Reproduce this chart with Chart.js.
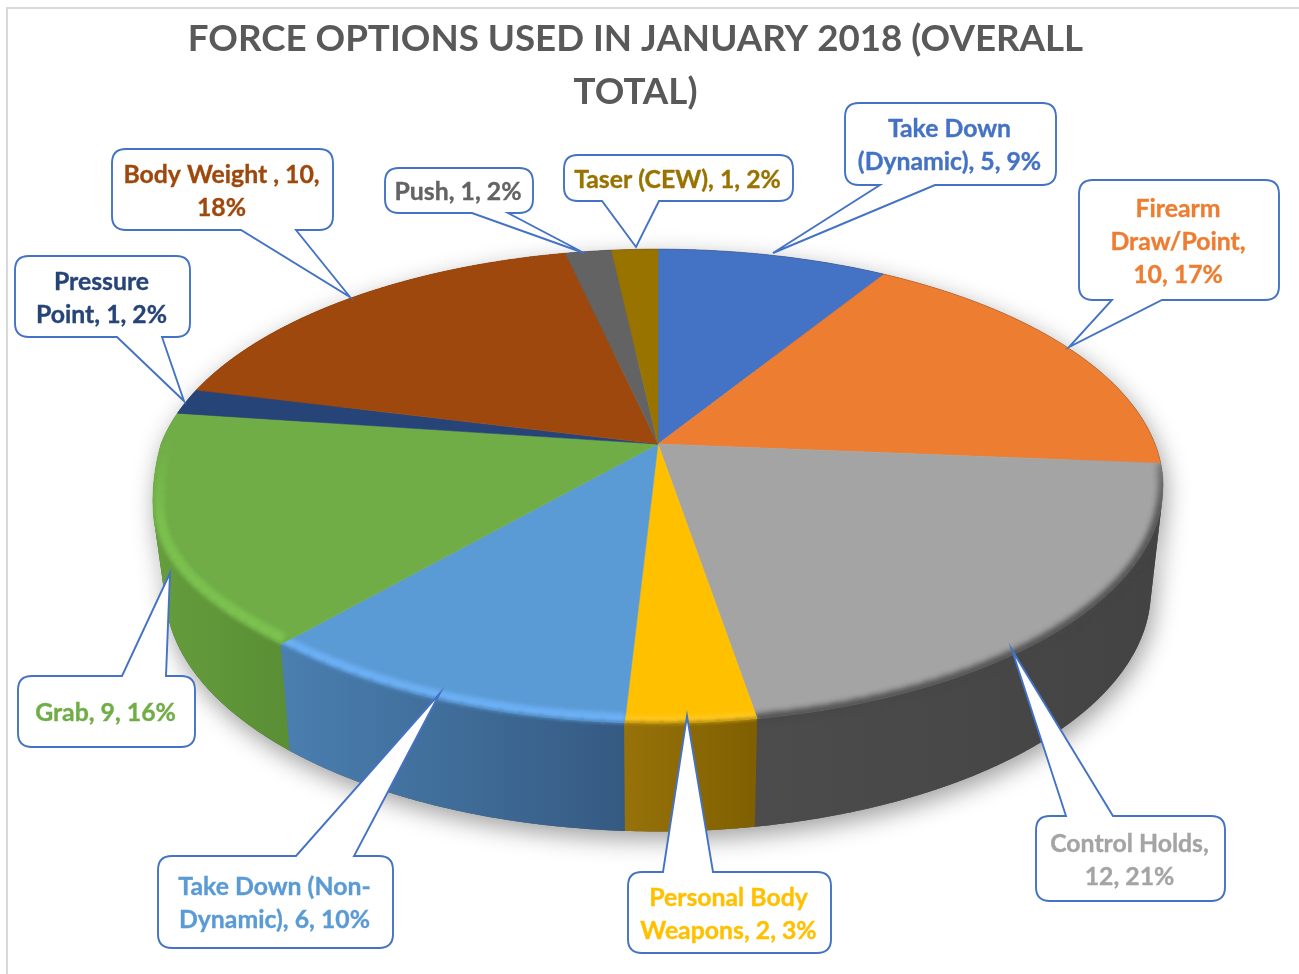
<!DOCTYPE html>
<html><head><meta charset="utf-8">
<style>html,body{margin:0;padding:0;background:#fff}#wrap{width:1299px;height:974px}</style>
<script src="https://cdn.jsdelivr.net/npm/chart.js@4"></script>
</head><body><div id="wrap"><canvas id="c" width="1299" height="974"></canvas></div>
<script>
const categories = ["Take Down (Dynamic)","Firearm Draw/Point","Control Holds","Personal Body Weapons","Take Down (Non-Dynamic)","Grab","Pressure Point","Body Weight","Push","Taser (CEW)"];
const values = [5,10,12,2,6,9,1,10,1,1];
const percents = [9,17,21,3,10,16,2,18,2,2];
const topColors = ["#4472c4","#ed7d31","#a4a4a4","#ffc000","#5b9bd5","#70ad47","#264478","#9e480e","#636363","#997300"];
const sideLeft = ["#2f5597","#b15d24","#4c4c4c","#97720a","#4a7fb0","#659e3d","#1b3054","#6f320a","#454545","#6b5000"];
const sideRight = ["#2f5597","#b15d24","#434343","#7f5f00","#355a82","#5a8f35","#1b3054","#6f320a","#454545","#6b5000"];
const bevelColors = [null,null,"#6e6e6e","#ffc71f","#6cb0f5","#7cc250",null,null,null,null];
const bevelWidths = [0,0,8,14,19,23,0,0,0,0];
const bevelBlur = [0,0,3.2,2,2.2,2.2,0,0,0,0];
const softColors = [null,null,"#474747","#b08a10","#4f86bb","#6aa342",null,null,null,null];
const softWidths = [0,0,6,3,3,3,0,0,0,0];
const softBlur = [0,0,3,1.4,1.4,1.4,0,0,0,0];
const titleLines = ["FORCE OPTIONS USED IN JANUARY 2018 (OVERALL","TOTAL)"];
const calloutLines = [["Take Down","(Dynamic), 5, 9%"],["Firearm","Draw/Point,","10, 17%"],["Control Holds,","12, 21%"],["Personal Body","Weapons, 2, 3%"],["Take Down (Non-","Dynamic), 6, 10%"],["Grab, 9, 16%"],["Pressure","Point, 1, 2%"],["Body Weight , 10,","18%"],["Push, 1, 2%"],["Taser (CEW), 1, 2%"]];
// callout box: left, top, right, bottom, tail base a, tail base b, tip x, tip y
const calloutBoxes = [
 [845,103,1056,185, 880,935, 773,253],
 [1079,180,1279,300, 1112,1162, 1069,347],
 [1036,816,1225,901, 1066,1113, 1012,650],
 [628,872,831,953, 663,713, 687,716],
 [158,856,393,948, 296,354, 440,693],
 [18,676,195,747, 122,166, 170,573],
 [15,256,190,337, 117,162, 184,401],
 [112,149,333,230, 241,296, 350,297],
 [385,168,533,213, 472,508, 584,253],
 [564,155,793,201, 602,659, 636,247]
];

// projection of the unit pie onto the tilted view
const P = {cx:658, c:-0.178, top:{R:497,A:229.5,y0:444,bulge:22}, bot:{R:485,A:233,y0:548,bulge:0}};
function proj(ang, lev){
  const u=Math.cos(ang), v=Math.sin(ang), d=1+P.c*v;
  const k=Math.max(0,(-u-0.6)/0.4), m=Math.min(1,Math.max(0,v*4));
  return [P.cx+lev.R*u/d, lev.y0+lev.A*v/d+lev.bulge*k*k*m];
}
function sliceTopPath(ctx,a,b){
  ctx.beginPath();
  ctx.moveTo(P.cx,P.top.y0);
  const n=Math.max(8,Math.ceil((b-a)/0.01));
  for(let i=0;i<=n;i++){const p=proj(a+(b-a)*i/n,P.top);ctx.lineTo(p[0],p[1]);}
  ctx.closePath();
}
function sideQuads(ctx,a,b){
  const n=Math.max(8,Math.ceil((b-a)/0.01));
  for(let i=0;i<n;i++){
    const a0=a+(b-a)*i/n,a1=a+(b-a)*(i+1)/n+0.001;
    const t0=proj(a0,P.top),t1=proj(a1,P.top),b1=proj(a1,P.bot),b0=proj(a0,P.bot);
    const area=(t1[0]-t0[0])*(b0[1]-t0[1])-(t1[1]-t0[1])*(b0[0]-t0[0]);
    if(area>=0){ctx.moveTo(t0[0],t0[1]);ctx.lineTo(t1[0],t1[1]);ctx.lineTo(b1[0],b1[1]);ctx.lineTo(b0[0],b0[1]);}
    else{ctx.moveTo(t0[0],t0[1]);ctx.lineTo(b0[0],b0[1]);ctx.lineTo(b1[0],b1[1]);ctx.lineTo(t1[0],t1[1]);}
    ctx.closePath();
  }
}
function rimStroke(ctx,s,color,width,blur){
  ctx.strokeStyle=color;ctx.lineWidth=width;ctx.lineCap='butt';
  ctx.filter='blur('+blur+'px)';
  const n=Math.ceil((s.b-s.a)/0.035);
  for(let i=0;i<n;i++){
    const a0=s.a+(s.b-s.a)*i/n,a1=s.a+(s.b-s.a)*(i+1)/n;
    const v=Math.sin((a0+a1)/2);
    const al=Math.min(1,Math.max(0,(v+0.02)/0.3));
    if(al<=0)continue;
    ctx.globalAlpha=al;
    const p=proj(a0,P.top),q=proj(a1+0.004,P.top);
    ctx.beginPath();ctx.moveTo(p[0],p[1]);ctx.lineTo(q[0],q[1]);ctx.stroke();
  }
}
const pie3d = {
  id:'pie3d',
  beforeDraw(chart){
    const ctx=chart.ctx;
    ctx.save();ctx.strokeStyle='#d9d9d9';ctx.lineWidth=2;
    ctx.beginPath();ctx.moveTo(1299,8);ctx.lineTo(7,8);ctx.lineTo(7,974);ctx.stroke();ctx.restore();
  },
  beforeDatasetDraw(chart,args){
    const ctx=chart.ctx, arcs=chart.getDatasetMeta(args.index).data;
    const sl=arcs.map((e,i)=>({i,a:e.startAngle,b:e.endAngle}));
    ctx.save();
    ctx.shadowColor='rgba(0,0,0,0.38)';ctx.shadowBlur=24;ctx.shadowOffsetX=3;ctx.shadowOffsetY=8;
    ctx.fillStyle='#555';ctx.beginPath();sideQuads(ctx,sl[0].a,sl[sl.length-1].b);ctx.fill();
    ctx.restore();
    sl.slice().sort((p,q)=>Math.sin((p.a+p.b)/2)-Math.sin((q.a+q.b)/2)).forEach(s=>{
      let x0=1e9,x1=-1e9;
      for(let k=0;k<=20;k++){const p=proj(s.a+(s.b-s.a)*k/20,P.top);x0=Math.min(x0,p[0]);x1=Math.max(x1,p[0]);}
      const g=ctx.createLinearGradient(x0,0,x1,0);
      g.addColorStop(0,sideLeft[s.i]);g.addColorStop(1,sideRight[s.i]);
      ctx.fillStyle=g;ctx.beginPath();sideQuads(ctx,s.a,s.b);ctx.fill();
    });
    sl.forEach(s=>{
      ctx.fillStyle=topColors[s.i];sliceTopPath(ctx,s.a,s.b);ctx.fill();
      ctx.strokeStyle=topColors[s.i];ctx.lineWidth=0.6;ctx.stroke();
    });
    sl.forEach(s=>{
      if(!bevelColors[s.i])return;
      ctx.save();sliceTopPath(ctx,s.a,s.b);ctx.clip();
      rimStroke(ctx,s,bevelColors[s.i],bevelWidths[s.i],bevelBlur[s.i]);
      ctx.restore();
      ctx.save();sliceTopPath(ctx,s.a,s.b);sideQuads(ctx,s.a,s.b);ctx.clip();
      rimStroke(ctx,s,softColors[s.i],softWidths[s.i],softBlur[s.i]);
      ctx.restore();
    });
    ctx.save();ctx.strokeStyle='rgba(70,70,70,0.2)';ctx.lineWidth=1;
    ctx.beginPath();
    for(let i=0;i<=400;i++){const ang=0.18-Math.PI*0.62*(i/400);const p=proj(ang,P.top);if(i)ctx.lineTo(p[0],p[1]);else ctx.moveTo(p[0],p[1]);}
    ctx.stroke();ctx.restore();
    return false;
  },
  afterDraw(chart){
    const ctx=chart.ctx;
    calloutBoxes.forEach((b,i)=>{
      const [l,t,r,bt,ba,bb,tx,ty]=b, rad=14;
      ctx.save();
      ctx.beginPath();
      ctx.moveTo(l+rad,t);
      if(ty<t){ctx.lineTo(ba,t);ctx.lineTo(tx,ty);ctx.lineTo(bb,t);}
      ctx.lineTo(r-rad,t);ctx.quadraticCurveTo(r,t,r,t+rad);
      ctx.lineTo(r,bt-rad);ctx.quadraticCurveTo(r,bt,r-rad,bt);
      if(ty>bt){ctx.lineTo(bb,bt);ctx.lineTo(tx,ty);ctx.lineTo(ba,bt);}
      ctx.lineTo(l+rad,bt);ctx.quadraticCurveTo(l,bt,l,bt-rad);
      ctx.lineTo(l,t+rad);ctx.quadraticCurveTo(l,t,l+rad,t);
      ctx.closePath();
      ctx.fillStyle='#fff';ctx.fill();
      ctx.strokeStyle='#4472c4';ctx.lineWidth=1.9;ctx.lineJoin='miter';ctx.stroke();
      ctx.fillStyle=topColors[i];ctx.strokeStyle=topColors[i];ctx.lineWidth=0.35;
      ctx.font='bold 24.8px Lato';ctx.textAlign='center';ctx.textBaseline='middle';
      const lines=calloutLines[i], lh=33, cy=(t+bt)/2-(lines.length-1)*lh/2+2, cx=(l+r)/2-1;
      lines.forEach((tx2,k)=>{ctx.fillText(tx2,cx,cy+k*lh);ctx.strokeText(tx2,cx,cy+k*lh);});
      ctx.restore();
    });
  }
};
new Chart(document.getElementById('c'),{
  type:'pie',
  data:{labels:categories,datasets:[{data:values,backgroundColor:topColors,borderWidth:0}]},
  options:{
    responsive:false,animation:false,
    layout:{padding:{right:28}},
    plugins:{
      legend:{display:false},tooltip:{enabled:false},
      title:{display:true,text:titleLines,color:'#595959',align:'center',
        font:{family:'Lato',size:36.7,weight:'bold',lineHeight:1.44},padding:{top:13,bottom:0}}
    }
  },
  plugins:[pie3d]
});
</script></body></html>
